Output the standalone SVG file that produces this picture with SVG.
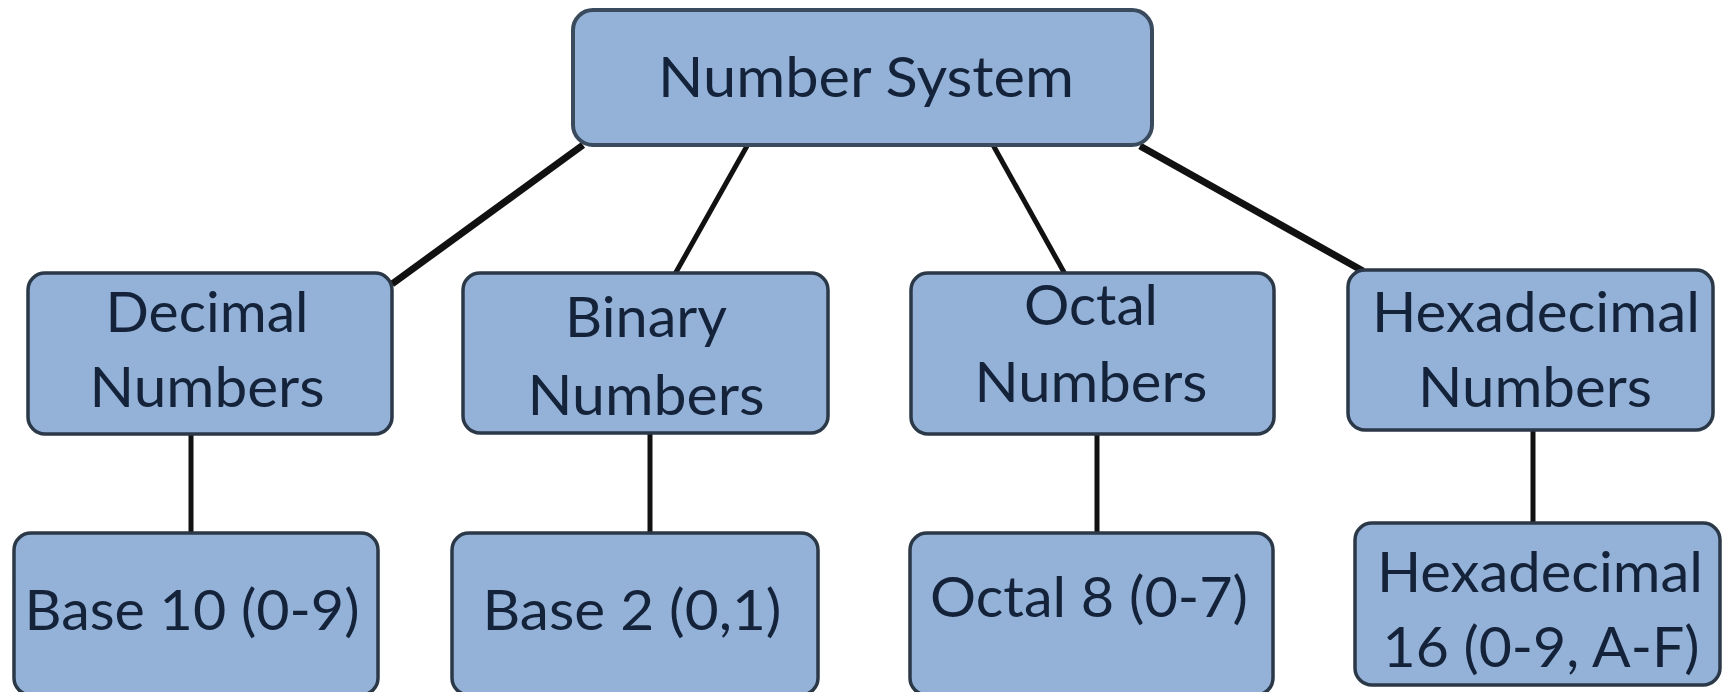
<svg xmlns="http://www.w3.org/2000/svg" width="1728" height="692" viewBox="0 0 1728 692">
<style>
.box{fill:#94b2d8;stroke:#2b3848;stroke-width:3.5}
.t{font-family:Lato,"Open Sans","Liberation Sans",sans-serif;font-size:56px;fill:#14233a;text-anchor:middle}
.c{stroke:#111;fill:none;stroke-linecap:butt}
</style>
<rect width="1728" height="692" fill="#ffffff"/>
<g id="connectors">
<line class="c" x1="583" y1="145" x2="392" y2="284" stroke-width="7"/>
<line class="c" x1="747" y1="146" x2="675" y2="274" stroke-width="5"/>
<line class="c" x1="993" y1="145" x2="1065" y2="274" stroke-width="5"/>
<line class="c" x1="1140" y1="146" x2="1363" y2="271" stroke-width="7"/>
<line class="c" x1="191" y1="434" x2="191" y2="533" stroke-width="5"/>
<line class="c" x1="650" y1="433" x2="650" y2="533" stroke-width="5"/>
<line class="c" x1="1097" y1="434" x2="1097" y2="533" stroke-width="5"/>
<line class="c" x1="1533" y1="430" x2="1533" y2="523" stroke-width="5"/>
</g>
<g id="number-system">
<rect class="box" x="573" y="10" width="579" height="135" rx="20" style="stroke:#3a4b5d;stroke-width:4"/>
<text class="t" x="866" y="97" font-size="58" textLength="416" lengthAdjust="spacingAndGlyphs">Number System</text>
</g>
<g id="decimal">
<rect class="box" x="28" y="273" width="364" height="161" rx="17"/>
<text class="t" x="207" y="332" textLength="203" lengthAdjust="spacingAndGlyphs">Decimal</text>
<text class="t" x="207" y="407" textLength="235" lengthAdjust="spacingAndGlyphs">Numbers</text>
</g>
<g id="binary">
<rect class="box" x="463" y="273" width="365" height="160" rx="17"/>
<text class="t" x="646" y="337" textLength="162" lengthAdjust="spacingAndGlyphs">Binary</text>
<text class="t" x="646" y="415" textLength="237" lengthAdjust="spacingAndGlyphs">Numbers</text>
</g>
<g id="octal">
<rect class="box" x="911" y="273" width="363" height="161" rx="17"/>
<text class="t" x="1091" y="325" textLength="134" lengthAdjust="spacingAndGlyphs">Octal</text>
<text class="t" x="1091" y="402" textLength="233" lengthAdjust="spacingAndGlyphs">Numbers</text>
</g>
<g id="hexadecimal">
<rect class="box" x="1348" y="270" width="365" height="160" rx="17"/>
<text class="t" x="1536" y="332" textLength="328" lengthAdjust="spacingAndGlyphs">Hexadecimal</text>
<text class="t" x="1535" y="407" textLength="234" lengthAdjust="spacingAndGlyphs">Numbers</text>
</g>
<g id="base10">
<rect class="box" x="14" y="533" width="364" height="162" rx="17"/>
<text class="t" x="192" y="630" textLength="335" lengthAdjust="spacingAndGlyphs">Base 10 (0-9)</text>
</g>
<g id="base2">
<rect class="box" x="452" y="533" width="366" height="162" rx="17"/>
<text class="t" x="632" y="630" textLength="299" lengthAdjust="spacingAndGlyphs">Base 2 (0,1)</text>
</g>
<g id="octal8">
<rect class="box" x="910" y="533" width="363" height="162" rx="17"/>
<text class="t" x="1089" y="617" textLength="318" lengthAdjust="spacingAndGlyphs">Octal 8 (0-7)</text>
</g>
<g id="hex16">
<rect class="box" x="1355" y="523" width="365" height="162" rx="17"/>
<text class="t" x="1540" y="592" textLength="326" lengthAdjust="spacingAndGlyphs">Hexadecimal</text>
<text class="t" x="1541" y="667" textLength="317" lengthAdjust="spacingAndGlyphs">16 (0-9, A-F)</text>
</g>
</svg>
